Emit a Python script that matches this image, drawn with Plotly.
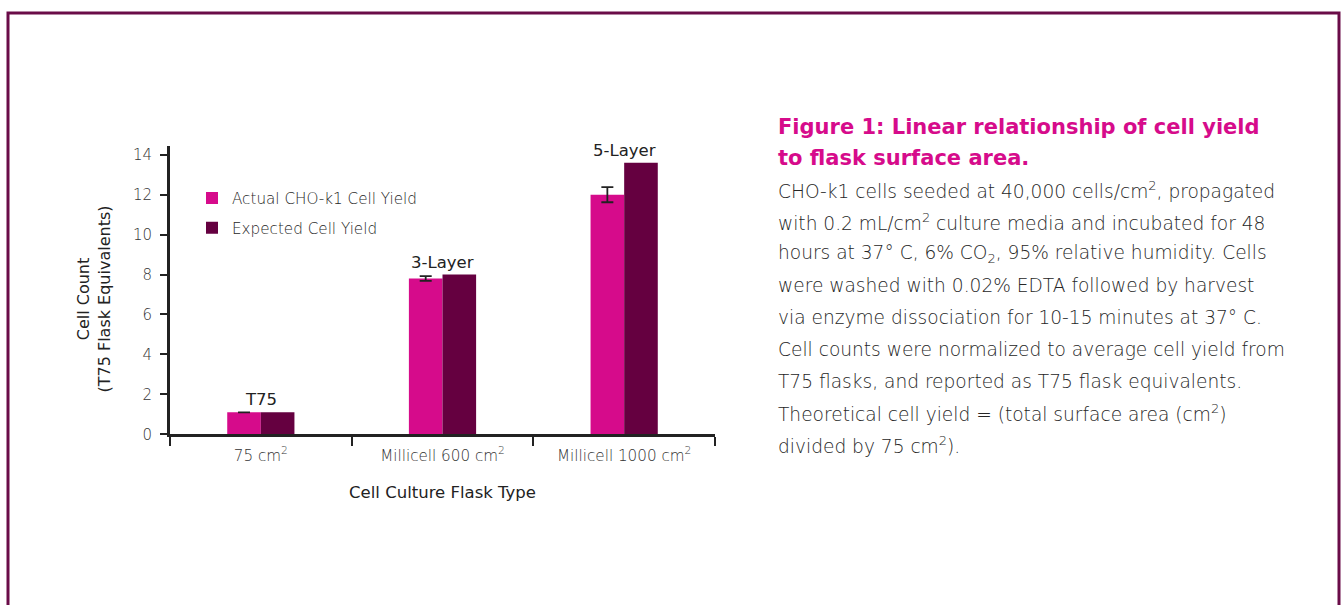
import plotly.graph_objects as go

# ---------------- data ----------------
categories = ["75 cm<sup>2</sup>", "Millicell 600 cm<sup>2</sup>", "Millicell 1000 cm<sup>2</sup>"]
actual_yield = [1.1, 7.8, 12.0]
actual_err = [None, 0.12, 0.38]
expected_yield = [1.1, 8.0, 13.6]
group_labels = ["T75", "3-Layer", "5-Layer"]
y_ticks = [0, 2, 4, 6, 8, 10, 12, 14]
y_title = "Cell Count<br>(T75 Flask Equivalents)"
x_title = "Cell Culture Flask Type"

caption_title = ["Figure 1: Linear relationship of cell yield", "to flask surface area."]
caption_body = [
    "CHO-k1 cells seeded at 40,000 cells/cm<sup>2</sup>, propagated",
    "with 0.2 mL/cm<sup>2</sup> culture media and incubated for 48",
    "hours at 37° C, 6% CO<sub>2</sub>, 95% relative humidity. Cells",
    "were washed with 0.02% EDTA followed by harvest",
    "via enzyme dissociation for 10-15 minutes at 37° C.",
    "Cell counts were normalized to average cell yield from",
    "T75 flasks, and reported as T75 flask equivalents.",
    "Theoretical cell yield = (total surface area (cm<sup>2</sup>)",
    "divided by 75 cm<sup>2</sup>).",
]

# ---------------- style ----------------
W, H = 1344, 605          # target picture size
HL = 613                  # layout height (viewport is photographed at 605)
PINK = "#d60b8b"
MAROON = "#650040"
BORDER = "#6a0c48"
AXIS = "#222222"
FONT = "DejaVu Sans"

def px_x(p):
    return p / W

def px_y(p):
    return 1 - p / H

fig = go.Figure()
fig.add_trace(go.Bar(
    name="Actual CHO-k1 Cell Yield", x=categories, y=actual_yield,
    legendgroup="actual",
    marker=dict(color=PINK, line=dict(width=0)),
    error_y=dict(type="data", array=actual_err, visible=True, color=AXIS, thickness=1.8, width=6),
))
fig.add_trace(go.Bar(
    name="Expected Cell Yield", x=categories, y=expected_yield,
    legendgroup="expected",
    marker=dict(color=MAROON, line=dict(width=0)),
))

annotations = []
for cat, a, e, lab in zip(categories, actual_yield, expected_yield, group_labels):
    top = max(a, e)
    annotations.append(dict(
        x=cat, y=top, xref="x", yref="y", text=lab, showarrow=False,
        yanchor="bottom", yshift=1,
        font=dict(family=FONT, size=16.5, color=AXIS),
    ))

# y-axis title
annotations.append(dict(
    x=px_x(94), y=px_y(300), xref="paper", yref="paper", text=y_title,
    textangle=-90, showarrow=False, xanchor="center", yanchor="middle",
    font=dict(family=FONT, size=16, color=AXIS),
))

for i, line in enumerate(caption_title):
    annotations.append(dict(
        x=px_x(776), y=px_y(127 + 31 * i), xref="paper", yref="paper",
        xanchor="left", yanchor="middle", align="left", showarrow=False,
        text=line, font=dict(family=FONT, size=21, color=PINK, weight=800),
    ))
for i, line in enumerate(caption_body):
    annotations.append(dict(
        x=px_x(776), y=px_y(190 + 32 * i), xref="paper", yref="paper",
        xanchor="left", yanchor="middle", align="left", showarrow=False,
        text=line, font=dict(family=FONT, size=18.6, color="#262626", weight=200),
    ))

fig.update_layout(
    width=W, height=HL,
    margin=dict(l=0, r=0, t=0, b=0),
    paper_bgcolor="white", plot_bgcolor="white",
    barmode="group", bargap=0.63, bargroupgap=0,
    showlegend=True,
    legend=dict(
        x=px_x(192), y=px_y(182), xanchor="left", yanchor="top",
        traceorder="grouped", tracegroupgap=7,
        bgcolor="rgba(0,0,0,0)", itemwidth=30,
        font=dict(family=FONT, size=15.2, color="#262626", weight=200),
    ),
    xaxis=dict(
        domain=[px_x(170), px_x(715)],
        type="category", range=[-0.5, 2.5],
        showline=True, linecolor=AXIS, linewidth=3,
        ticks="outside", tickson="boundaries", ticklen=9, tickwidth=2, tickcolor=AXIS,
        ticklabelstandoff=5,
        showgrid=False, zeroline=False,
        tickfont=dict(family=FONT, size=15.2, color="#333333", weight=200),
        title=dict(text=x_title, standoff=23,
                   font=dict(family=FONT, size=16.5, color=AXIS)),
    ),
    yaxis=dict(
        domain=[px_y(435), px_y(146)],
        range=[0, 14.45], tickvals=y_ticks,
        showline=True, linecolor=AXIS, linewidth=3,
        ticks="outside", ticklen=7, tickwidth=2, tickcolor=AXIS,
        ticklabelstandoff=5,
        showgrid=False, zeroline=False,
        tickfont=dict(family=FONT, size=15, color="#333333", weight=200),
    ),
    annotations=annotations,
    shapes=[dict(
        type="rect", xref="paper", yref="paper",
        x0=px_x(8), x1=px_x(1339), y0=px_y(640), y1=px_y(13),
        line=dict(color=BORDER, width=3), fillcolor="rgba(0,0,0,0)", layer="above",
    )],
)

fig.write_html(
    "out.html",
    config={"displayModeBar": False},
    post_script=(
        "document.body.style.margin='0px';"
        "document.body.style.overflow='hidden';"
        "document.documentElement.style.overflow='hidden';"
    ),
)
